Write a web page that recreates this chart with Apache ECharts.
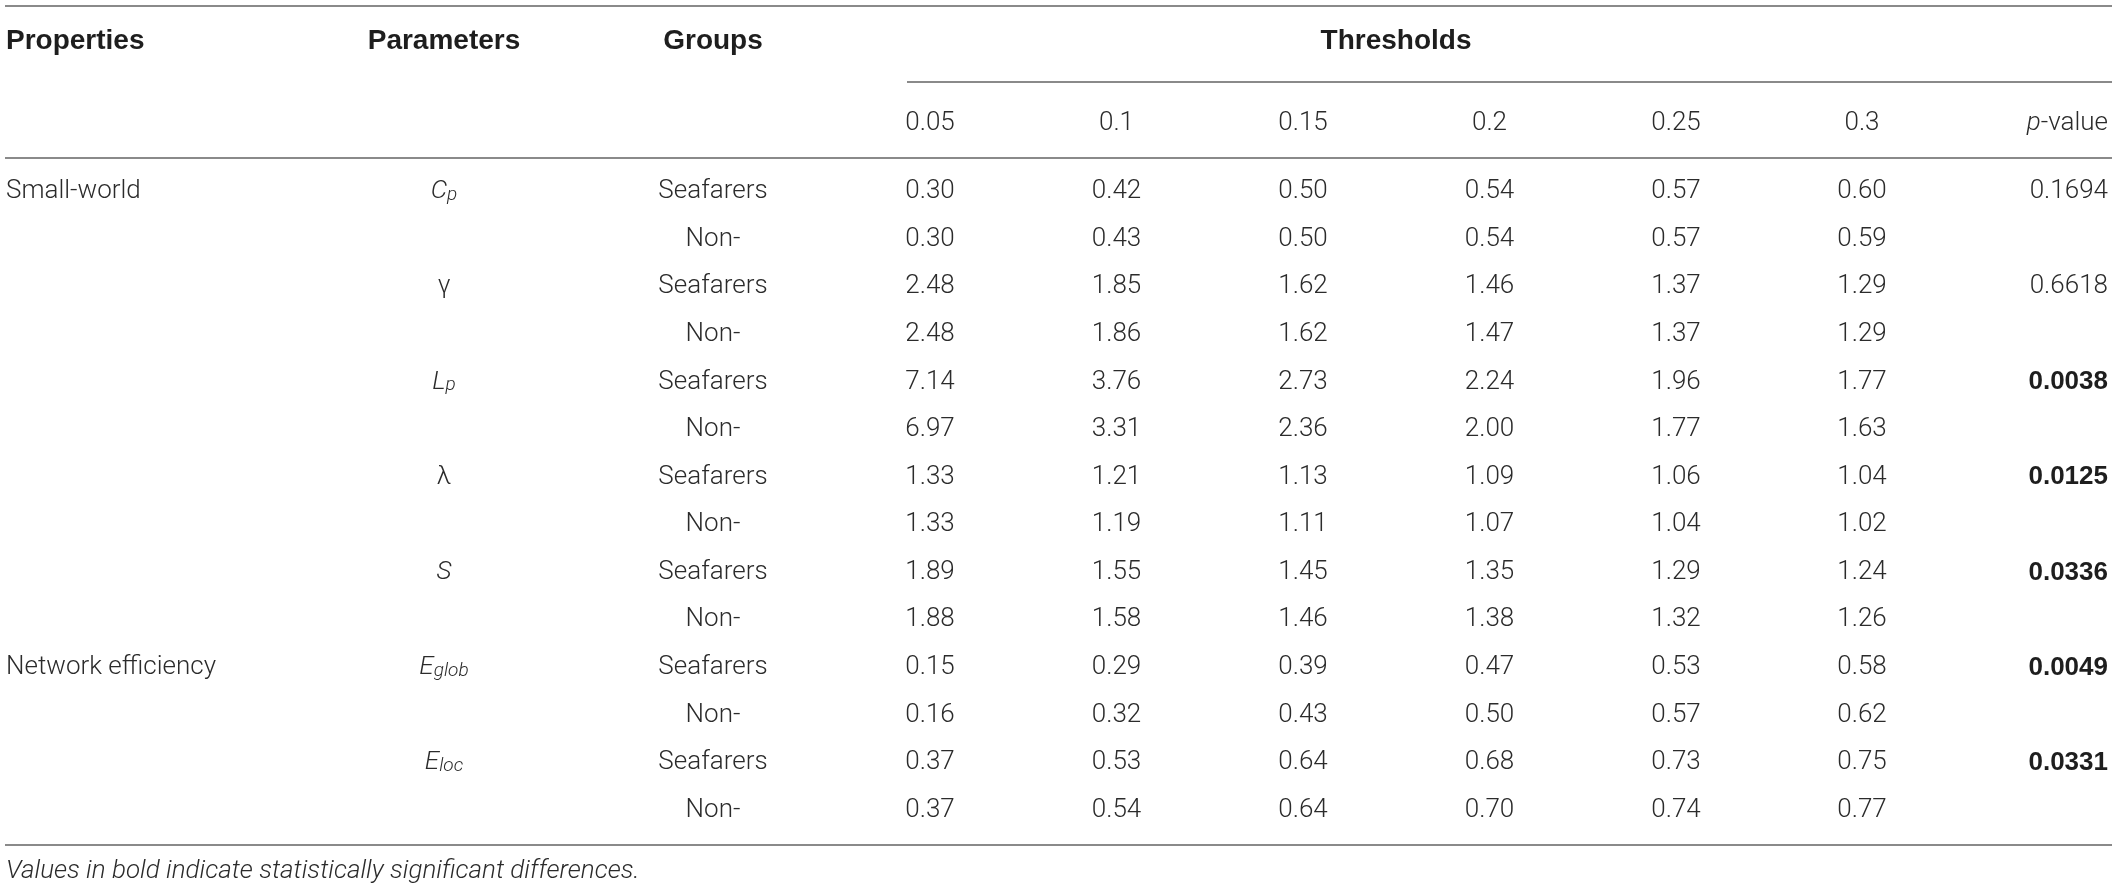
<!DOCTYPE html>
<html>
<head>
<meta charset="utf-8">
<title>Small-world and network efficiency by threshold</title>
<script src="https://cdn.jsdelivr.net/npm/echarts@6/dist/echarts.min.js"></script>
<style>
  html, body { margin: 0; padding: 0; background: #fff; }
  #table { width: 2117px; height: 893px; }
</style>
</head>
<body>
<div id="table"></div>
<script>
// ---- table data ----
var thresholds = ['0.05', '0.1', '0.15', '0.2', '0.25', '0.3'];
var properties = ['Small-world', '', '', '', '', 'Network efficiency', ''];
// parameter symbols: [main, subscript, italic]
var paramMain = ['C', '\u03b3', 'L', '\u03bb', 'S', 'E', 'E'];
var paramSub = ['p', '', 'p', '', '', 'glob', 'loc'];
var paramItalic = [true, false, true, false, true, true, true];
var groups = ['Seafarers', 'Non-'];

var seafarers = [
    [0.30, 0.42, 0.50, 0.54, 0.57, 0.60],
    [2.48, 1.85, 1.62, 1.46, 1.37, 1.29],
    [7.14, 3.76, 2.73, 2.24, 1.96, 1.77],
    [1.33, 1.21, 1.13, 1.09, 1.06, 1.04],
    [1.89, 1.55, 1.45, 1.35, 1.29, 1.24],
    [0.15, 0.29, 0.39, 0.47, 0.53, 0.58],
    [0.37, 0.53, 0.64, 0.68, 0.73, 0.75]
];
var nonSeafarers = [
    [0.30, 0.43, 0.50, 0.54, 0.57, 0.59],
    [2.48, 1.86, 1.62, 1.47, 1.37, 1.29],
    [6.97, 3.31, 2.36, 2.00, 1.77, 1.63],
    [1.33, 1.19, 1.11, 1.07, 1.04, 1.02],
    [1.88, 1.58, 1.46, 1.38, 1.32, 1.26],
    [0.16, 0.32, 0.43, 0.50, 0.57, 0.62],
    [0.37, 0.54, 0.64, 0.70, 0.74, 0.77]
];
var pValues = ['0.1694', '0.6618', '0.0038', '0.0125', '0.0336', '0.0049', '0.0331'];
var significant = [false, false, true, true, true, true, true];
var footnote = 'Values in bold indicate statistically significant differences.';

// ---- layout ----
var W = 2117;
var colX = [6, 444, 713, 930, 1116.5, 1303, 1489.5, 1676, 1862, 2108];
var BODY = 'Roboto';
var HEAD = '"Liberation Sans", Arial, sans-serif';
var textColor = '#2b2b2b';
var ruleColor = '#8a8a8a';

// header cells: [x, row, text, align, kind]
var headCells = [
    [colX[0], 0, 'Properties', 'left', 'head'],
    [colX[1], 0, 'Parameters', 'center', 'head'],
    [colX[2], 0, 'Groups', 'center', 'head'],
    [(colX[3] + colX[8]) / 2, 0, 'Thresholds', 'center', 'head']
];
thresholds.forEach(function (t, i) {
    headCells.push([colX[3 + i], 1, t, 'center', 'body']);
});
headCells.push([colX[9], 1, 'pvalue', 'right', 'pvalue']);

// body cells
var rowNames = [];
var bodyCells = [];
paramMain.forEach(function (m, k) {
    [seafarers[k], nonSeafarers[k]].forEach(function (vals, g) {
        var r = k * 2 + g;
        rowNames.push(m + paramSub[k] + '-' + groups[g]);
        if (g === 0) {
            if (properties[k]) bodyCells.push([colX[0], r, properties[k], 'left', 'body']);
            bodyCells.push([colX[1], r, k, 'center', 'param']);
            bodyCells.push([colX[9], r, pValues[k], 'right', significant[k] ? 'bold' : 'body']);
        }
        bodyCells.push([colX[2], r, groups[g], 'center', 'body']);
        vals.forEach(function (v, i) {
            bodyCells.push([colX[3 + i], r, v.toFixed(2), 'center', 'body']);
        });
    });
});

function cellStyle(kind, text, align) {
    var s = { textAlign: align, textVerticalAlign: 'middle', fill: textColor };
    if (kind === 'head') {
        s.text = text;
        s.font = 'bold 28px ' + HEAD;
        s.fill = '#1e1e1e';
    } else if (kind === 'bold') {
        s.text = text;
        s.font = 'bold 26px ' + HEAD;
        s.fill = '#1e1e1e';
    } else if (kind === 'pvalue') {
        s.text = '{i|p}{n|-value}';
        s.rich = {
            i: { font: 'italic 300 26px ' + BODY, fill: textColor },
            n: { font: '300 26px ' + BODY, fill: textColor }
        };
    } else if (kind === 'param') {
        var k = text;
        var sub = paramSub[k];
        var it = paramItalic[k] ? 'italic ' : '';
        if (sub) {
            s.text = '{m|' + paramMain[k] + '}{s|' + sub + '}';
            s.rich = {
                m: { font: it + '300 26px ' + BODY, fill: textColor, lineHeight: 26, padding: [0, 0, 5, 0], verticalAlign: 'top' },
                s: { font: it + '300 19px ' + BODY, fill: textColor, lineHeight: 19, verticalAlign: 'bottom' }
            };
        } else {
            s.text = paramMain[k];
            s.font = it + '300 26px ' + BODY;
        }
    } else {
        s.text = text;
        s.font = '300 26px ' + BODY;
    }
    return s;
}

function makeRender(cells) {
    return function (params, api) {
        var c = cells[params.dataIndex];
        var pt = api.coord([api.value(0), api.value(1)]);
        return {
            type: 'text',
            x: pt[0],
            y: pt[1],
            style: cellStyle(c[4], c[2], c[3])
        };
    };
}

function rule(x1, y, x2) {
    return {
        type: 'line',
        shape: { x1: x1, y1: y, x2: x2, y2: y },
        style: { stroke: ruleColor, lineWidth: 2 },
        silent: true
    };
}

var chart = echarts.init(document.getElementById('table'), null, { renderer: 'canvas' });
var option = {
    animation: false,
    backgroundColor: '#fff',
    grid: [
        { left: 0, right: 0, top: 0, height: 164 },
        { left: 0, right: 0, top: 168, height: 666 }
    ],
    xAxis: [
        { type: 'value', gridIndex: 0, min: 0, max: W, show: false },
        { type: 'value', gridIndex: 1, min: 0, max: W, show: false }
    ],
    yAxis: [
        { type: 'category', gridIndex: 0, data: ['head', 'sub'], inverse: true, show: false },
        { type: 'category', gridIndex: 1, data: rowNames, inverse: true, show: false }
    ],
    series: [
        {
            type: 'custom',
            xAxisIndex: 0,
            yAxisIndex: 0,
            data: headCells.map(function (c) { return [c[0], c[1]]; }),
            renderItem: makeRender(headCells),
            silent: true
        },
        {
            type: 'custom',
            xAxisIndex: 1,
            yAxisIndex: 1,
            data: bodyCells.map(function (c) { return [c[0], c[1]]; }),
            renderItem: makeRender(bodyCells),
            silent: true
        }
    ],
    graphic: [
        rule(5, 6, 2112),
        rule(907, 82, 2112),
        rule(5, 158, 2112),
        rule(5, 845, 2112),
        {
            type: 'text',
            x: 6,
            y: 871,
            style: {
                text: footnote,
                font: 'italic 300 26px ' + BODY,
                fill: textColor,
                textVerticalAlign: 'middle'
            }
        }
    ]
};
chart.setOption(option);
</script>
</body>
</html>
